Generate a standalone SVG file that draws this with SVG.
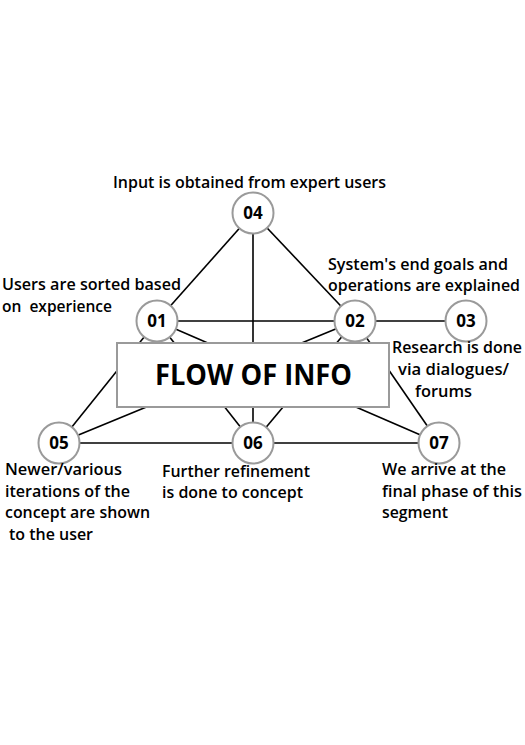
<svg xmlns="http://www.w3.org/2000/svg" width="525" height="745" viewBox="0 0 525 745">
<style>
.edge{stroke:#000;stroke-width:1.6;fill:none}
.node circle{fill:#fff;stroke:#9a9a9a;stroke-width:2}
.node text.id{font-family:"Open Sans","DejaVu Sans",sans-serif;font-weight:700;font-size:17px;text-anchor:middle;fill:#000}
.lbl{font-family:"Open Sans","DejaVu Sans",sans-serif;font-weight:600;font-size:16px;fill:#000}
.title{font-family:"Open Sans","DejaVu Sans",sans-serif;font-weight:700;font-size:28px;fill:#000}
</style>
<rect width="525" height="745" fill="#fff"/>
<g id="connectors">
<line class="edge" x1="253" y1="213" x2="157" y2="321"/>
<line class="edge" x1="253" y1="213" x2="355" y2="321"/>
<line class="edge" x1="253" y1="213" x2="253" y2="443"/>
<line class="edge" x1="157" y1="321" x2="355" y2="321"/>
<line class="edge" x1="355" y1="321" x2="466" y2="321"/>
<line class="edge" x1="157" y1="321" x2="59" y2="443"/>
<line class="edge" x1="157" y1="321" x2="253" y2="443"/>
<line class="edge" x1="157" y1="321" x2="439" y2="443"/>
<line class="edge" x1="355" y1="321" x2="59" y2="443"/>
<line class="edge" x1="355" y1="321" x2="253" y2="443"/>
<line class="edge" x1="355" y1="321" x2="439" y2="443"/>
<line class="edge" x1="59" y1="443" x2="439" y2="443"/>
</g>
<g id="center">
<rect x="117" y="343" width="272" height="64" fill="#fff" stroke="#9a9a9a" stroke-width="2"/>
<text class="title" x="155" y="385" textLength="197" lengthAdjust="spacingAndGlyphs">FLOW OF INFO</text>
</g>
<g id="n04" class="node"><circle cx="253" cy="213" r="20.5"/><text class="id" x="253" y="219">04</text></g>
<g id="n01" class="node"><circle cx="157" cy="321" r="20.5"/><text class="id" x="157" y="327">01</text></g>
<g id="n02" class="node"><circle cx="355" cy="321" r="20.5"/><text class="id" x="355" y="327">02</text></g>
<g id="n03" class="node"><circle cx="466" cy="321" r="20.5"/><text class="id" x="466" y="327">03</text></g>
<g id="n05" class="node"><circle cx="59" cy="443" r="20.5"/><text class="id" x="59" y="449">05</text></g>
<g id="n06" class="node"><circle cx="253" cy="443" r="20.5"/><text class="id" x="253" y="449">06</text></g>
<g id="n07" class="node"><circle cx="439" cy="443" r="20.5"/><text class="id" x="439" y="449">07</text></g>
<g id="labels">
<text class="lbl" x="113" y="188" textLength="273" lengthAdjust="spacingAndGlyphs">Input is obtained from expert users</text>
<text class="lbl" x="2" y="290" textLength="179" lengthAdjust="spacingAndGlyphs">Users are sorted based</text>
<text class="lbl" x="2" y="312" textLength="110" lengthAdjust="spacingAndGlyphs" xml:space="preserve">on  experience</text>
<text class="lbl" x="328" y="270" textLength="180" lengthAdjust="spacingAndGlyphs">System's end goals and</text>
<text class="lbl" x="328" y="291" textLength="192" lengthAdjust="spacingAndGlyphs">operations are explained</text>
<text class="lbl" x="392" y="353" textLength="130" lengthAdjust="spacingAndGlyphs">Research is done</text>
<text class="lbl" x="398" y="375" textLength="111" lengthAdjust="spacingAndGlyphs">via dialogues/</text>
<text class="lbl" x="415" y="397" textLength="57" lengthAdjust="spacingAndGlyphs">forums</text>
<text class="lbl" x="5" y="475" textLength="117" lengthAdjust="spacingAndGlyphs">Newer/various</text>
<text class="lbl" x="5" y="497" textLength="125" lengthAdjust="spacingAndGlyphs">iterations of the</text>
<text class="lbl" x="5" y="518" textLength="145" lengthAdjust="spacingAndGlyphs">concept are shown</text>
<text class="lbl" x="9" y="540" textLength="84" lengthAdjust="spacingAndGlyphs">to the user</text>
<text class="lbl" x="162" y="477" textLength="148" lengthAdjust="spacingAndGlyphs">Further refinement</text>
<text class="lbl" x="162" y="498" textLength="141" lengthAdjust="spacingAndGlyphs">is done to concept</text>
<text class="lbl" x="382" y="475" textLength="124" lengthAdjust="spacingAndGlyphs">We arrive at the</text>
<text class="lbl" x="382" y="497" textLength="140" lengthAdjust="spacingAndGlyphs">final phase of this</text>
<text class="lbl" x="382" y="518" textLength="66" lengthAdjust="spacingAndGlyphs">segment</text>
</g>
</svg>
